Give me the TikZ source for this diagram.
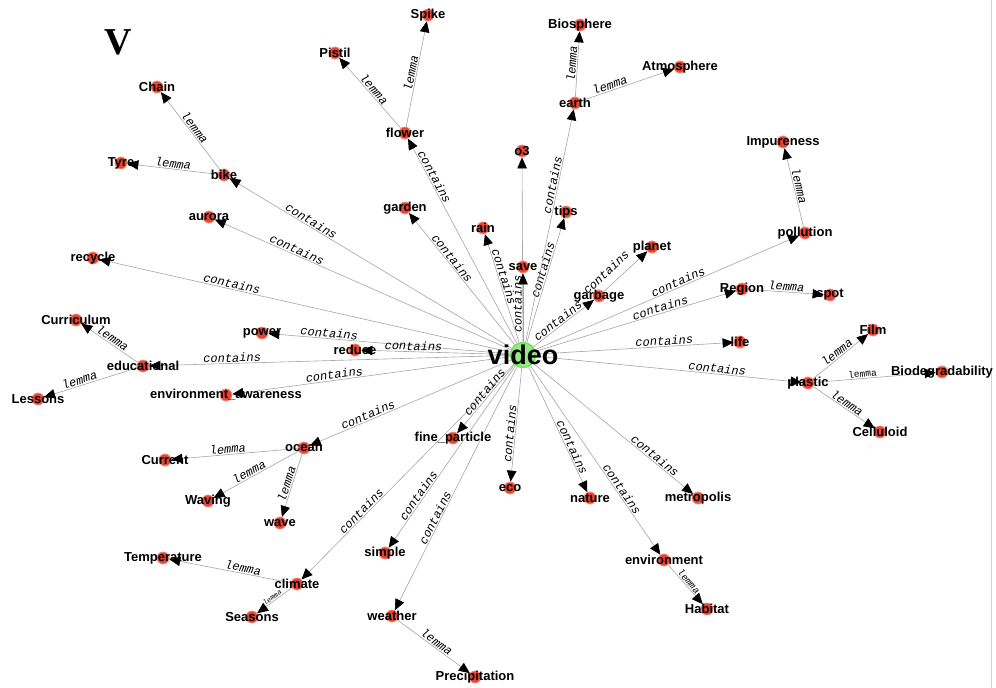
\documentclass[tikz,border=0pt]{standalone}
\usepackage{fontspec}
\setmainfont{Liberation Sans}
\newfontfamily\edgefont{Liberation Mono}
\newfontfamily\titlefont{Liberation Serif}
\usetikzlibrary{arrows.meta, backgrounds}
\usepackage{color}

\definecolor{dotred}{RGB}{232,68,50}
\definecolor{dotring}{RGB}{246,140,124}
\definecolor{hubgreen}{RGB}{118,224,86}
\definecolor{edgegray}{RGB}{165,165,165}

\tikzset{
  termtext/.style={font=\bfseries\fontsize{13}{15}\selectfont, inner sep=0pt},
  word/.style={circle, fill=dotred, draw=dotring, line width=0.8pt,
               minimum size=12pt, inner sep=0pt, label={[termtext]center:#1}},
  hub/.style={circle, fill=hubgreen!75!white, draw=hubgreen, line width=1.5pt,
              minimum size=25pt, inner sep=0pt,
              label={[font=\bfseries\fontsize{27}{30}\selectfont]center:#1}},
  tag/.style={font=\edgefont\itshape\fontsize{12}{12}\selectfont, sloped,
              above, inner sep=1pt, text=black}
}

\begin{document}
\begin{tikzpicture}[x=1pt, y=-1pt,
                every edge/.style={draw=edgegray, line width=0.6pt,
                  -{Triangle[length=11pt, width=9.5pt, black]}}]
        \useasboundingbox (0,0) rectangle (996,688);
        \draw [gray!35, line width=1pt] (991,0) -- (991,688);
        \node [font=\titlefont\bfseries\fontsize{38}{38}\selectfont] (title) at (118,42) {V};

        \node [hub=video] (video) at (523,355) {};

%% top
        \node [word=Spike] (spike) at (428,15) {};
        \node [word=Pistil] (pistil) at (335,53) {};
        \node [word=flower] (flower) at (405,133) {};
        \node [word=Biosphere] (biosphere) at (580,25) {};
        \node [word=earth] (earth) at (575,103) {};
        \node [word=Atmosphere] (atmosphere) at (680,67) {};
        \node [word=o3] (othree) at (522,151) {};
        \node [word=tips] (tips) at (566,212) {};
        \node [word=garden] (garden) at (405,208) {};
        \node [word=rain] (rain) at (483,228) {};
        \node [word=save] (save) at (523,267) {};
        \node [word=Impureness] (impureness) at (783,142) {};
        \node [word=pollution] (pollution) at (805,233) {};
        \node [word=planet] (planet) at (652,247) {};
        \node [word=garbage] (garbage) at (599,296) {};

%% left
        \node [word=Chain] (chain) at (157,87) {};
        \node [word=bike] (bike) at (224,175) {};
        \node [word=Tyre] (tyre) at (121,163) {};
        \node [word=aurora] (aurora) at (209,217) {};
        \node [word=recycle] (recycle) at (93,258) {};
        \node [word=Curriculum] (curriculum) at (76,320) {};
        \node [word=educational] (educational) at (143,366) {};
        \node [word=Lessons] (lessons) at (38,399) {};
        \node [word=power] (power) at (262,333) {};
        \node [word=reduce] (reduce) at (355,350) {};
        \node [word=environment\_awareness] (envaware) at (226,395) {};

%% right
        \node [word=Region] (region) at (742,289) {};
        \node [word=spot] (spot) at (830,295) {};
        \node [word=life] (life) at (740,342) {};
        \node [word=Film] (film) at (873,330) {};
        \node [word=plastic] (plastic) at (808,383) {};
        \node [word=Biodegradability] (biodeg) at (942,372) {};
        \node [word=Celluloid] (celluloid) at (880,432) {};

%% bottom
        \node [word=fine\_particle] (fineparticle) at (453,438) {};
        \node [word=Current] (current) at (165,460) {};
        \node [word=ocean] (ocean) at (304,448) {};
        \node [word=Waving] (waving) at (208,501) {};
        \node [word=wave] (wave) at (280,523) {};
        \node [word=Temperature] (temperature) at (163,558) {};
        \node [word=climate] (climate) at (297,584) {};
        \node [word=Seasons] (seasons) at (252,617) {};
        \node [word=eco] (eco) at (510,488) {};
        \node [word=nature] (nature) at (590,498) {};
        \node [word=simple] (simple) at (385,553) {};
        \node [word=weather] (weather) at (392,616) {};
        \node [word=Precipitation] (precipitation) at (475,677) {};
        \node [word=metropolis] (metropolis) at (698,498) {};
        \node [word=environment] (environment) at (664,560) {};
        \node [word=Habitat] (habitat) at (707,609) {};

%% paths
        \begin{scope}[on background layer]
        \path
            (video) edge node [tag, pos=0.72] {contains} (bike)
                    edge node [tag, pos=0.73] {contains} (aurora)
                    edge node [tag, pos=0.68] {contains} (recycle)
                    edge node [tag, pos=0.80] {contains} (flower)
                    edge node [tag, pos=0.63] {contains} (garden)
                    edge node [tag, pos=0.59] {contains} (rain)
                    edge (othree)
                    edge node [tag, pos=0.55] {contains} (save)
                    edge node [tag, pos=0.57] {contains} (tips)
                    edge node [tag, pos=0.67] {contains} (earth)
                    edge node [tag, pos=0.46] {contains} (garbage)
                    edge node [tag, pos=0.55] {contains} (pollution)
                    edge node [tag, pos=0.63] {contains} (region)
                    edge node [tag, pos=0.65] {contains} (life)
                    edge node [tag, pos=0.68] {contains} (plastic)
                    edge node [tag, pos=0.74] {contains} (metropolis)
                    edge node [tag, pos=0.67] {contains} (environment)
                    edge node [tag, pos=0.66] {contains} (nature)
                    edge node [tag, pos=0.58] {contains} (eco)
                    edge node [tag, pos=0.63] {contains} (weather)
                    edge node [tag, pos=0.73] {contains} (simple)
                    edge node [tag, pos=0.70] {contains} (climate)
                    edge node [tag, pos=0.45] {contains} (fineparticle)
                    edge node [tag, pos=0.70] {contains} (ocean)
                    edge node [tag, pos=0.63] {contains} (envaware)
                    edge node [tag, pos=0.77] {contains} (educational)
                    edge node [tag, pos=0.75] {contains} (power)
                    edge node [tag, pos=0.65] {contains} (reduce)
            (garbage) edge node [tag, pos=0.25, above=7pt] {contains} (planet)
            (bike) edge node [tag] {lemma} (chain)
                   edge node [tag] {lemma} (tyre)
            (flower) edge node [tag] {lemma} (pistil)
                     edge node [tag] {lemma} (spike)
            (earth) edge node [tag] {lemma} (biosphere)
                    edge node [tag, pos=0.33] {lemma} (atmosphere)
            (pollution) edge node [tag] {lemma} (impureness)
            (educational) edge node [tag] {lemma} (curriculum)
                          edge node [tag, pos=0.6] {lemma} (lessons)
            (region) edge node [tag] {lemma} (spot)
            (plastic) edge node [tag] {lemma} (film)
                      edge node [tag, pos=0.4, font=\edgefont\fontsize{9.5}{9.5}\selectfont] {lemma} (biodeg)
                      edge node [tag] {lemma} (celluloid)
            (ocean) edge node [tag, pos=0.55] {lemma} (current)
                    edge node [tag, pos=0.55] {lemma} (waving)
                    edge node [tag] {lemma} (wave)
            (climate) edge node [tag, pos=0.4] {lemma} (temperature)
                      edge node [tag, font=\edgefont\itshape\fontsize{7}{7}\selectfont] {lemma} (seasons)
            (weather) edge node [tag] {lemma} (precipitation)
            (environment) edge node [tag, font=\edgefont\itshape\fontsize{9.5}{9.5}\selectfont] {lemma} (habitat)
            ;
        \end{scope}
\end{tikzpicture}
\end{document}
